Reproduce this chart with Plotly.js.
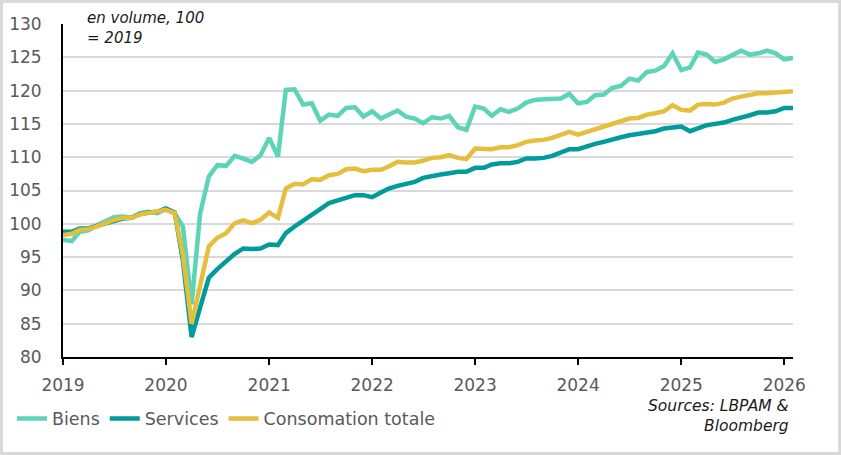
<!DOCTYPE html>
<html>
<head>
<meta charset="utf-8">
<script src="https://cdn.plot.ly/plotly-3.0.1.min.js"></script>
<style>
  body { margin: 0; background: #fff; }
  #wrap { position: relative; width: 841px; height: 455px; }
  #frame { position: absolute; left: 0; top: 0; width: 841px; height: 455px; box-sizing: border-box; border: 3px solid #d9d9d9; pointer-events: none; }
</style>
</head>
<body>
<div id="wrap">
  <div id="myDiv" style="width:841px;height:455px;"></div>
  <div id="frame"></div>
</div>
<script>
// monthly index, 100 = 2019, from Jan 2019 to Feb 2026
var firstYear = 2019;
var nbMonths = 86;

var biens = [
  97.6, 97.4, 98.8, 99.0, 99.8, 100.5, 101.0, 101.1, 100.9, 101.6, 101.8, 101.6,
  102.2, 101.6, 99.6, 87.9, 101.5, 107.1, 108.8, 108.7, 110.2, 109.8, 109.3, 110.3,
  112.9, 110.1, 120.1, 120.2, 117.9, 118.1, 115.5, 116.4, 116.2, 117.4, 117.5, 116.1,
  116.9, 115.8, 116.4, 117.0, 116.1, 115.8, 115.1, 116.0, 115.8, 116.2, 114.5, 114.1,
  117.6, 117.3, 116.2, 117.2, 116.8, 117.3, 118.2, 118.6, 118.7, 118.7, 118.8, 119.5,
  118.1, 118.3, 119.3, 119.4, 120.4, 120.7, 121.8, 121.5, 122.8, 123.0, 123.7, 125.6,
  123.1, 123.5, 125.7, 125.4, 124.3, 124.7, 125.3, 126.0, 125.4, 125.6, 126.0, 125.6,
  124.7, 124.9
];

var services = [
  98.8, 98.8, 99.3, 99.3, 99.7, 100.1, 100.5, 100.8, 100.9, 101.5, 101.7, 101.8,
  102.3, 101.7, 94.5, 83.0, 87.4, 91.9, 93.2, 94.3, 95.5, 96.3, 96.2, 96.3,
  96.9, 96.8, 98.6, 99.6, 100.4, 101.3, 102.2, 103.1, 103.5, 103.9, 104.3, 104.3,
  104.0, 104.7, 105.3, 105.7, 106.0, 106.3, 106.9, 107.2, 107.4, 107.6, 107.8, 107.8,
  108.4, 108.4, 108.9, 109.1, 109.1, 109.3, 109.8, 109.8, 109.9, 110.2, 110.8, 111.2,
  111.2, 111.7, 112.0, 112.3, 112.7, 113.0, 113.3, 113.5, 113.7, 113.9, 114.3, 114.5,
  114.6, 113.9, 114.4, 114.8, 115.0, 115.2, 115.6, 115.9, 116.3, 116.7, 116.7, 116.9,
  117.4, 117.4
];

var consoTotale = [
  98.3, 98.5, 99.1, 99.2, 99.6, 100.1, 100.6, 100.9, 100.9, 101.4, 101.6, 101.8,
  102.1, 101.6, 95.3, 85.0, 90.6, 96.6, 97.9, 98.6, 100.1, 100.5, 100.1, 100.6,
  101.7, 100.9, 105.3, 106.0, 105.9, 106.7, 106.6, 107.3, 107.5, 108.2, 108.3, 107.9,
  108.1, 108.1, 108.6, 109.3, 109.2, 109.2, 109.5, 109.9, 110.0, 110.3, 109.9, 109.7,
  111.3, 111.2, 111.2, 111.5, 111.5, 111.8, 112.3, 112.5, 112.6, 112.9, 113.3, 113.8,
  113.4, 113.8, 114.2, 114.5, 114.9, 115.4, 115.8, 115.9, 116.4, 116.6, 116.9, 117.8,
  117.1, 117.0, 117.9, 118.0, 117.9, 118.2, 118.8, 119.1, 119.3, 119.6, 119.6, 119.7,
  119.8, 119.9
];

var yearTicks = ["2019", "2020", "2021", "2022", "2023", "2024", "2025", "2026"];

var mois = [];
for (var i = 0; i < nbMonths; i++) {
    var y = firstYear + Math.floor(i / 12);
    var m = (i % 12) + 1;
    mois.push(y + "-" + (m < 10 ? "0" + m : m) + "-01");
}

var police = "DejaVu Sans, sans-serif";

var trace1 = { x: mois, y: biens, name: "Biens", type: "scatter", mode: "lines",
    line: { color: "#5DD3B8", width: 4.5 } };
var trace2 = { x: mois, y: services, name: "Services", type: "scatter", mode: "lines",
    line: { color: "#009B9B", width: 4.5 } };
var trace3 = { x: mois, y: consoTotale, name: "Consomation totale", type: "scatter", mode: "lines",
    line: { color: "#E4BE3C", width: 4.5 } };

var layout = {
    width: 841,
    height: 455,
    margin: { l: 58, r: 48, t: 24, b: 98 },
    paper_bgcolor: "#ffffff",
    plot_bgcolor: "#ffffff",
    font: { family: police, color: "#595959" },
    showlegend: true,
    xaxis: {
        type: "date",
        range: ["2019-01-01", "2026-02-01"],
        tickvals: yearTicks.map(function(a) { return a + "-01-01"; }),
        ticktext: yearTicks,
        showgrid: false,
        zeroline: false,
        showline: true,
        linecolor: "#000000",
        linewidth: 2,
        ticks: "outside",
        ticklen: 6,
        tickwidth: 2,
        tickcolor: "#000000",
        ticklabelstandoff: 6,
        tickfont: { size: 17, color: "#595959", family: police }
    },
    yaxis: {
        range: [80, 130],
        dtick: 5,
        tick0: 80,
        showgrid: true,
        gridcolor: "#d9d9d9",
        gridwidth: 1.5,
        zeroline: false,
        showline: true,
        linecolor: "#000000",
        linewidth: 2,
        ticks: "",
        ticklabelstandoff: 16,
        tickfont: { size: 17, color: "#595959", family: police }
    },
    legend: {
        orientation: "h",
        x: -0.07,
        xanchor: "left",
        y: -0.185,
        yanchor: "middle",
        bgcolor: "rgba(0,0,0,0)",
        font: { size: 17.5, color: "#595959", family: police }
    },
    annotations: [
        {
            text: "<i>en volume, 100<br>= 2019</i>",
            xref: "paper", yref: "paper",
            x: 0.03, y: 1.05,
            xanchor: "left", yanchor: "top", align: "left",
            showarrow: false,
            font: { size: 15, color: "#1a1a1a", family: police }
        },
        {
            text: "<i>Sources: LBPAM &<br>Bloomberg</i>",
            xref: "paper", yref: "paper",
            x: 0.997, y: -0.115,
            xanchor: "right", yanchor: "top", align: "right",
            showarrow: false,
            font: { size: 15.5, color: "#1a1a1a", family: police }
        }
    ]
};

Plotly.newPlot("myDiv", [trace1, trace2, trace3], layout, { displayModeBar: false });
</script>
</body>
</html>
